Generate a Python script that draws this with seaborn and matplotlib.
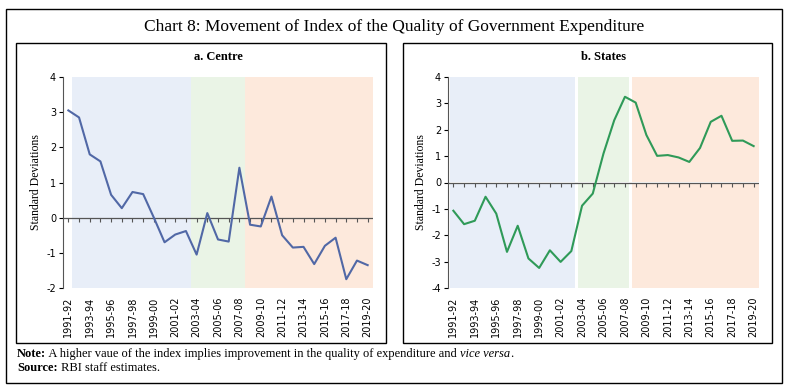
import numpy as np
import pandas as pd
import matplotlib
matplotlib.use("Agg")
import matplotlib.pyplot as plt
import seaborn as sns
from matplotlib.patches import Rectangle

# data
years = [f"{y}-{str(y + 1)[-2:]}" for y in range(1991, 2020)]
centre = [3.05, 2.85, 1.80, 1.60, 0.65, 0.27, 0.73, 0.67, 0.00, -0.70,
          -0.48, -0.38, -1.05, 0.13, -0.62, -0.68, 1.42, -0.20, -0.25, 0.60,
          -0.50, -0.85, -0.83, -1.32, -0.80, -0.57, -1.75, -1.22, -1.35]
states = [-1.07, -1.58, -1.45, -0.54, -1.18, -2.63, -1.64, -2.88, -3.24, -2.57,
          -3.01, -2.60, -0.88, -0.42, 1.10, 2.36, 3.25, 3.03, 1.80, 1.01,
          1.04, 0.95, 0.78, 1.31, 2.30, 2.53, 1.58, 1.59, 1.38]
period_ends = ["2002-03", "2007-08"]

df = pd.DataFrame({"year": years, "pos": range(len(years)),
                   "Centre": centre, "States": states})

plt.rcParams["font.family"] = ["DejaVu Sans"]
plt.rcParams["axes.unicode_minus"] = False
fig = plt.figure(figsize=(7.88, 3.90), dpi=100)

W, H = 788, 390


def fx(px):
    return px / W


def fy(py):
    return 1 - py / H


# borders
fig.patches.append(Rectangle((fx(6), fy(383)), fx(782) - fx(6), fy(9) - fy(383),
                             transform=fig.transFigure, fill=False, lw=1.0, ec="black"))
for x0, x1 in [(16, 386), (403, 772)]:
    fig.patches.append(Rectangle((fx(x0), fy(343)), fx(x1) - fx(x0), fy(43) - fy(343),
                                 transform=fig.transFigure, fill=False, lw=1.0, ec="black"))

fig.text(0.5, fy(27), "Chart 8: Movement of Index of the Quality of Government Expenditure",
         ha="center", va="center", fontsize=12.5, family="Liberation Serif")

shade = ["#e8eef8", "#eaf4e6", "#fde9dc"]
i1 = years.index(period_ends[0]) + 0.5
i2 = years.index(period_ends[1]) + 0.5
n = len(years)

panels = [
    ("a. Centre", "Centre", "#5168a6", (63, 373), (-2, 4), 0.3, 0.0),
    ("b. States", "States", "#2f9a58", (448, 759), (-4, 4), -0.3, 0.12),
]

for title, col, color, (xl, xr), (ymin, ymax), start, gap in panels:
    ax = fig.add_axes([fx(xl), fy(288), fx(xr) - fx(xl), fy(77) - fy(288)])
    ax.set_facecolor("none")
    ax.axvspan(start, i1 - gap, color=shade[0], lw=0, zorder=0)
    ax.axvspan(i1 + gap, i2 - gap, color=shade[1], lw=0, zorder=0)
    ax.axvspan(i2 + gap, n - 0.4, color=shade[2], lw=0, zorder=0)
    ax.axhline(0, color="#555555", lw=0.9, zorder=1)
    sns.lineplot(data=df, x="pos", y=col, color=color, lw=1.5, ax=ax, zorder=3)

    ax.set_xlim(-0.5, n - 0.5)
    ax.set_ylim(ymin, ymax)
    ax.set_yticks(range(ymin, ymax + 1))
    ax.set_xticks(range(0, n, 2))
    ax.set_xticklabels(years[::2], rotation=90, fontsize=7)
    ax.tick_params(axis="x", length=0, pad=6)
    ax.tick_params(axis="y", length=3, labelsize=7, pad=2, width=0.8)
    for s in ["top", "right", "bottom"]:
        ax.spines[s].set_visible(False)
    ax.spines["left"].set_color("#555555")
    ax.spines["left"].set_linewidth(0.8)
    ax.set_xlabel("")
    ax.set_ylabel("Standard Deviations", family="Liberation Serif", fontsize=8.5, labelpad=3)
    ax.set_title(title, family="Liberation Serif", fontsize=9, fontweight="bold", pad=12)

    # category tick marks along the zero line, pointing down
    zero_frac = (0 - ymin) / (ymax - ymin)
    sec = ax.secondary_xaxis(zero_frac)
    sec.set_xticks(range(n))
    sec.set_xticklabels([])
    sec.xaxis.set_ticks_position("bottom")
    sec.tick_params(axis="x", which="both", bottom=True, top=False, direction="out",
                    length=3, width=0.8, color="#555555",
                    labelbottom=False, labeltop=False)
    for s in sec.spines.values():
        s.set_visible(False)

# note and source
fs = 9
note = fig.text(fx(17), fy(354), "Note:", fontsize=fs, fontweight="bold",
                family="Liberation Serif", va="center")
fig.canvas.draw()
r = fig.canvas.get_renderer()
x = note.get_window_extent(r).x1 / fig.bbox.width
for txt, st in [(" A higher vaue of the index implies improvement in the quality of expenditure and ", "normal"),
                ("vice versa", "italic"), (".", "normal")]:
    t = fig.text(x, fy(354), txt, fontsize=fs, style=st, family="Liberation Serif", va="center")
    x = t.get_window_extent(r).x1 / fig.bbox.width

src = fig.text(fx(17), fy(368), "Source:", fontsize=fs, fontweight="bold",
               family="Liberation Serif", va="center")
x = src.get_window_extent(r).x1 / fig.bbox.width
fig.text(x, fy(368), " RBI staff estimates.", fontsize=fs,
         family="Liberation Serif", va="center")

fig.savefig("out.png", dpi=100)
